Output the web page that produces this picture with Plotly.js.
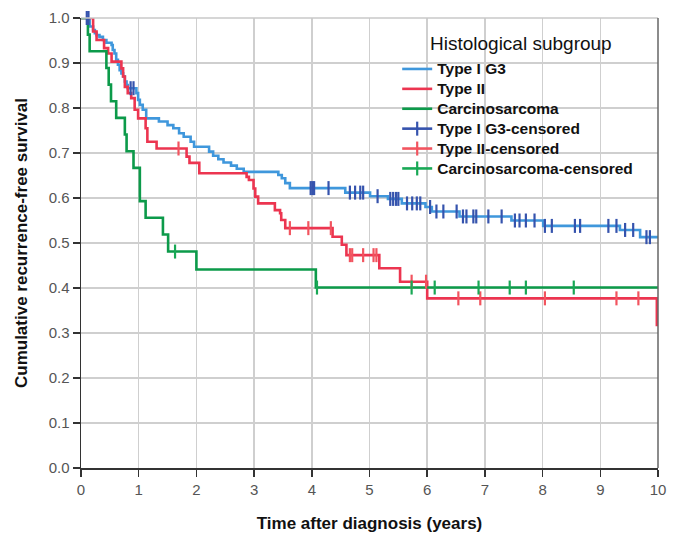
<!DOCTYPE html>
<html>
<head>
<meta charset="utf-8">
<script src="https://cdn.plot.ly/plotly-3.0.1.min.js"></script>
<style>
html,body{margin:0;padding:0;background:#fff;}
#chart{width:675px;height:537px;}
#chart .legendtext{font-size:15.5px !important;}
#chart .legend .scrollbox{clip-path:none !important;}
</style>
</head>
<body>
<div id="chart"></div>
<script>
// ---- Data ----
const seriesNames = ["Type I G3", "Type II", "Carcinosarcoma"];
const censoredNames = ["Type I G3-censored", "Type II-censored", "Carcinosarcoma-censored"];

// Type I G3: step times and survival
const g3Time = [0, 0.15, 0.21, 0.24, 0.27, 0.32, 0.38, 0.44, 0.53, 0.55, 0.58, 0.61, 0.64, 0.67, 0.70, 0.73, 0.76, 0.79, 0.81,
  0.96, 0.99, 1.02, 1.07, 1.13, 1.35, 1.50, 1.60, 1.70, 1.78, 1.90, 1.96, 2.22, 2.29, 2.38, 2.47, 2.60, 2.70, 2.82,
  3.42, 3.48, 3.54, 3.62, 4.58, 5.01, 5.32, 5.56, 5.97, 6.08, 6.56, 7.46, 8.01, 9.34, 9.69, 10];
const g3Surv = [1.0, 0.981, 0.973, 0.966, 0.962, 0.958, 0.951, 0.945, 0.940, 0.929, 0.921, 0.907, 0.896, 0.884, 0.877, 0.870, 0.859, 0.851, 0.844,
  0.833, 0.818, 0.807, 0.796, 0.777, 0.770, 0.762, 0.755, 0.744, 0.736, 0.725, 0.714, 0.703, 0.694, 0.686, 0.679, 0.672, 0.665, 0.658,
  0.651, 0.644, 0.633, 0.622, 0.612, 0.604, 0.598, 0.588, 0.580, 0.570, 0.559, 0.550, 0.538, 0.529, 0.513, 0.513];
const g3Censor = [0.10, 0.13, 0.86, 0.91, 3.98, 4.01, 4.04, 4.29, 4.66, 4.75, 4.84, 4.89, 5.14, 5.36, 5.41, 5.46, 5.50,
  5.65, 5.74, 5.82, 5.88, 6.05, 6.16, 6.28, 6.51, 6.62, 6.68, 6.80, 6.85, 7.06, 7.29, 7.52, 7.60, 7.71, 7.86,
  8.04, 8.16, 8.56, 8.65, 9.14, 9.28, 9.43, 9.57, 9.80, 9.86];

// Type II
const t2Time = [0, 0.21, 0.27, 0.40, 0.47, 0.53, 0.70, 0.73, 0.76, 0.81, 0.87, 0.93, 0.99, 1.12, 1.15, 1.31, 1.83, 1.88, 2.05,
  2.87, 2.91, 2.99, 3.02, 3.07, 3.36, 3.45, 3.47, 3.54, 4.36, 4.52, 4.60, 5.17, 5.53, 6.00, 9.98, 10];
const t2Surv = [1.0, 0.970, 0.951, 0.933, 0.921, 0.903, 0.888, 0.870, 0.847, 0.833, 0.822, 0.796, 0.777, 0.755, 0.725, 0.710, 0.692, 0.678, 0.655,
  0.647, 0.640, 0.621, 0.603, 0.588, 0.573, 0.566, 0.551, 0.533, 0.514, 0.496, 0.473, 0.444, 0.414, 0.377, 0.318, 0.318];
const t2Censor = [1.69, 3.62, 3.94, 4.33, 4.66, 4.70, 4.89, 5.07, 5.12, 5.73, 5.98, 6.54, 6.92, 8.04, 9.28, 9.66];

// Carcinosarcoma
const csTime = [0, 0.12, 0.15, 0.44, 0.48, 0.52, 0.61, 0.76, 0.79, 0.91, 1.02, 1.12, 1.42, 1.51, 2.00, 4.07, 10];
const csSurv = [1.0, 0.963, 0.926, 0.889, 0.852, 0.815, 0.778, 0.741, 0.704, 0.667, 0.593, 0.556, 0.519, 0.481, 0.441, 0.401, 0.401];
const csCensor = [1.63, 4.09, 5.73, 6.13, 6.89, 7.43, 7.71, 8.54];

const xTicks = [0,1,2,3,4,5,6,7,8,9,10];
const yTicks = [0,0.1,0.2,0.3,0.4,0.5,0.6,0.7,0.8,0.9,1.0];

// ---- Styles ----
const lineColors = ["#3f97dc", "#ec3550", "#0c9a4a"];
const censorColors = ["#3553ad", "#f2545f", "#18a855"];

function survAt(T, S, t) {
  let v = S[0];
  for (let i = 0; i < T.length; i++) { if (T[i] <= t) v = S[i]; }
  return v;
}
function censorXY(T, S, C) {
  const x = [], y = [];
  C.forEach(function (c) { x.push(c, null); y.push(survAt(T, S, c), null); });
  return {x: x, y: y};
}

const groups = [[g3Time, g3Surv, g3Censor], [t2Time, t2Surv, t2Censor], [csTime, csSurv, csCensor]];
const traces = [];
groups.forEach(function (g, i) {
  traces.push({
    type: "scatter", mode: "lines", name: seriesNames[i],
    x: g[0], y: g[1], line: {shape: "hv", color: lineColors[i], width: 2.6}
  });
});
groups.forEach(function (g, i) {
  const c = censorXY(g[0], g[1], g[2]);
  traces.push({
    type: "scatter", mode: "lines+markers", name: censoredNames[i],
    x: c.x, y: c.y, connectgaps: false, cliponaxis: false,
    line: {color: censorColors[i], width: 2.6},
    marker: {symbol: "line-ns-open", size: 10, color: censorColors[i], line: {color: censorColors[i], width: 2.2}}
  });
});

const tickFont = {family: "Liberation Sans Narrow, Liberation Sans, Arial, sans-serif", size: 15, color: "#555"};
const titleFont = {family: "Liberation Sans, Arial, sans-serif", size: 17, color: "#111", weight: "bold"};

const layout = {
  width: 675, height: 537,
  margin: {l: 81, r: 17, t: 18, b: 69},
  paper_bgcolor: "#fff", plot_bgcolor: "#fff",
  showlegend: true,
  legend: {
    x: 0.548, y: 0.92, xanchor: "left", yanchor: "top",
    bgcolor: "rgba(0,0,0,0)", borderwidth: 0,
    font: {family: "Liberation Sans, Arial, sans-serif", size: 13, color: "#111", weight: "bold"},
    itemwidth: 30, tracegroupgap: 0
  },
  xaxis: {
    range: [0, 10], tickvals: xTicks, ticktext: xTicks.map(String),
    showgrid: true, gridcolor: "#cfcfcf", gridwidth: 1.5,
    showline: true, linecolor: "#333", linewidth: 1.5,
    ticks: "outside", ticklen: 7, tickwidth: 1.5, tickcolor: "#333",
    tickfont: tickFont, zeroline: false,
    title: {text: "Time after diagnosis (years)", font: titleFont, standoff: 20}
  },
  yaxis: {
    range: [0, 1], tickvals: yTicks, ticktext: yTicks.map(function (v) { return v.toFixed(1); }),
    showgrid: true, gridcolor: "#cfcfcf", gridwidth: 1.5,
    showline: true, linecolor: "#333", linewidth: 1.5,
    ticks: "outside", ticklen: 7, tickwidth: 1.5, tickcolor: "#333",
    tickfont: tickFont, zeroline: false,
    title: {text: "Cumulative recurrence-free survival", font: titleFont, standoff: 16}
  },
  shapes: [
    {type: "line", xref: "paper", yref: "paper", x0: 0, x1: 1, y0: 1, y1: 1, line: {color: "#c8c8c8", width: 1.5}},
    {type: "line", xref: "paper", yref: "paper", x0: 1, x1: 1, y0: 0, y1: 1, line: {color: "#666", width: 1.5}}
  ],
  annotations: [
    {text: "Histological subgroup", xref: "paper", yref: "paper", x: 0.601, y: 0.944, xanchor: "left", yanchor: "middle",
     showarrow: false, font: {family: "Liberation Sans, Arial, sans-serif", size: 19, color: "#111"}}
  ]
};

Plotly.newPlot("chart", traces, layout, {displayModeBar: false, staticPlot: true});
</script>
</body>
</html>
